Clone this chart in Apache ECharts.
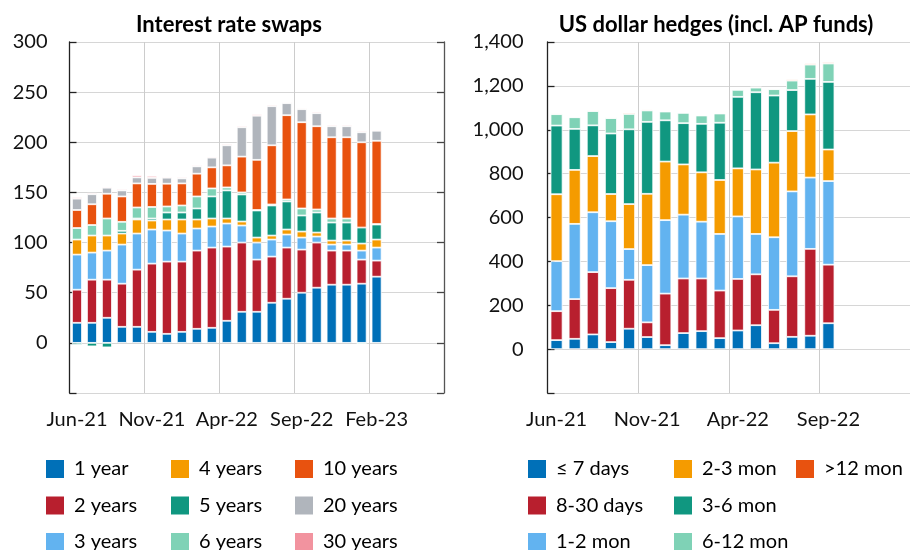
<!DOCTYPE html>
<html>
<head>
<meta charset="utf-8">
<script src="https://cdn.jsdelivr.net/npm/echarts@6/dist/echarts.min.js"></script>
<style>
  html, body { margin: 0; padding: 0; background: #fff; }
  #chart { width: 910px; height: 550px; }
</style>
</head>
<body>
<div id="chart"></div>
<script>
// Month labels for the two category axes
const swapMonths = ['Jun-21','Jul-21','Aug-21','Sep-21','Oct-21','Nov-21','Dec-21','Jan-22','Feb-22','Mar-22',
  'Apr-22','May-22','Jun-22','Jul-22','Aug-22','Sep-22','Oct-22','Nov-22','Dec-22','Jan-23',
  'Feb-23','Mar-23','Apr-23','May-23','Jun-23'];
const hedgeMonths = ['Jun-21','Jul-21','Aug-21','Sep-21','Oct-21','Nov-21','Dec-21','Jan-22','Feb-22','Mar-22',
  'Apr-22','May-22','Jun-22','Jul-22','Aug-22','Sep-22','Oct-22','Nov-22','Dec-22','Jan-23'];

// Interest rate swaps by maturity (Jun-21 .. Feb-23)
const irs1y  = [20, 20, 25, 16, 16, 11, 9, 11, 14, 15, 22, 31, 31, 40, 44, 50, 55, 58, 58, 59, 66];
const irs2y  = [33, 43, 38, 43, 57, 68, 72, 70, 78, 80, 74, 69, 52, 46, 51, 43, 45, 34, 34, 24, 16];
const irs3y  = [35, 27, 29, 39, 36, 34, 31, 28, 22, 21, 23, 17, 17, 17, 13, 12, 6, 6, 6, 9, 13];
const irs4y  = [15, 17, 15, 11, 14, 9, 11, 14, 9, 8, 5, 4, 5, 4, 5, 6, 4, 4, 4, 7, 8];
const irs5y  = [-2, -3.5, -4.5, 2.7, 1, 2, 7, 7, 11, 22, 28, 27, 27, 30, 28, 16, 20, 18, 18, 16, 15];
const irs6y  = [11.5, 10.5, 17, 9, 11, 11.5, 6, 7, 12, 8, 3, 2, 0.5, 1, 2, 7, 3, 4, 4, -1.5, 0.5];
const irs10y = [18, 20.7, 24.7, 25.3, 24, 23, 22.7, 22, 22.7, 21, 22, 35.7, 50, 59, 84, 86, 83, 81, 81, 85, 83];
const irs20y = [11.3, 10, 6, 6, 6, 6, 6, 5, 7.3, 9.7, 20, 29.3, 44, 39, 12, 13, 13, 11, 11, 10, 10];
const irs30y = [1.3, 1.3, 1, 1.3, 2, 2, 1, 1.3, 1, 1, 1.3, 1.3, 1.3, 1.3, 1, 1, 1.3, 1.3, 1.3, 1.3, 1];

// US dollar hedges by tenor (Jun-21 .. Sep-22)
const hd7d   = [41, 47, 67, 32, 93, 55, 18, 73, 82, 50, 85, 109, 27, 56, 61, 118];
const hd30d  = [132, 181, 284, 246, 223, 67, 235, 249, 240, 217, 235, 232, 152, 276, 396, 267];
const hd1to2 = [228, 343, 273, 305, 140, 261, 335, 291, 259, 258, 285, 184, 331, 387, 325, 381];
const hd2to3 = [305, 246, 256, 124, 205, 325, 267, 229, 225, 246, 219, 294, 340, 275, 288, 144];
const hd3to6 = [313, 187, 140, 276, 341, 328, 188, 188, 221, 261, 326, 352, 306, 187, 162, 308];
const hd6to12= [52, 53, 65, 70, 70, 52, 40, 47, 38, 42, 32, 21, 29, 43, 65, 84];
const hd12p  = [4, 2, 4, 4, 6, 4, 2, 2, 2, 2, 2, 4, 2, 5, 5, 5];

const C = {
  blue: '#0070B8', red: '#B81F2E', sky: '#62B3F0', amber: '#F59B00',
  teal: '#109780', mint: '#7FD2B6', orange: '#E8520F', grey: '#B0B5BC', pink: '#F2939F'
};

const FONT = 'Lato, "Noto Sans", sans-serif';
const gridGrey = '#d6d6d6';

const swapSeries = [
  ['1 year', irs1y, C.blue], ['2 years', irs2y, C.red], ['3 years', irs3y, C.sky],
  ['4 years', irs4y, C.amber], ['5 years', irs5y, C.teal], ['6 years', irs6y, C.mint],
  ['10 years', irs10y, C.orange], ['20 years', irs20y, C.grey], ['30 years', irs30y, C.pink]
];
const hedgeSeries = [
  ['\u2264 7 days', hd7d, C.blue], ['8-30 days', hd30d, C.red], ['1-2 mon', hd1to2, C.sky],
  ['2-3 mon', hd2to3, C.amber], ['3-6 mon', hd3to6, C.teal], ['6-12 mon', hd6to12, C.mint],
  ['>12 mon', hd12p, C.orange]
];

function barSeries(list, axisIdx, stack, width) {
  return list.map(([name, data, color]) => ({
    name, type: 'bar', stack, data,
    xAxisIndex: axisIdx, yAxisIndex: axisIdx === 0 ? 0 : 2,
    barWidth: width,
    itemStyle: { color, borderColor: '#ffffff', borderWidth: 0.8 },
    emphasis: { disabled: true }
  }));
}

// One legend block per column, stacked vertically
function legendColumn(names, left) {
  return {
    data: names, left, top: 458, height: 120, orient: 'vertical', padding: 0,
    itemWidth: 20, itemHeight: 20, itemGap: 14.5, icon: 'rect',
    selectedMode: false,
    textStyle: { fontFamily: FONT, fontSize: 20, color: '#000', lineHeight: 20, padding: [0, 0, 0, 4] }
  };
}

const yLabel = (v) => v < 0 ? '' : v.toLocaleString('en-US');

const option = {
  animation: false,
  textStyle: { fontFamily: FONT },
  grid: [
    { left: 69.5, top: 42, width: 374.5, height: 351 },
    { left: 547.5, top: 42, width: 374.6, height: 351 }
  ],
  xAxis: [
    {
      type: 'category', gridIndex: 0, data: swapMonths,
      axisLine: { show: false }, axisTick: { show: false },
      axisLabel: { interval: 4, fontSize: 20, color: '#111', margin: 17, fontFamily: FONT },
      splitLine: { show: true, interval: 4, lineStyle: { color: '#cccccc', width: 1 } }
    },
    {
      type: 'category', gridIndex: 1, data: hedgeMonths,
      axisLine: { show: false }, axisTick: { show: false },
      axisLabel: { interval: 4, fontSize: 20, color: '#111', margin: 17, fontFamily: FONT },
      splitLine: { show: true, interval: 4, lineStyle: { color: '#cccccc', width: 1 } }
    }
  ],
  yAxis: [
    {
      type: 'value', gridIndex: 0, min: -50, max: 300, interval: 50, position: 'left',
      axisLine: { show: true, lineStyle: { color: '#222', width: 1.3 } },
      axisTick: { show: true, inside: true, length: 7, lineStyle: { color: '#222', width: 1.3 } },
      axisLabel: { formatter: yLabel, fontSize: 20, color: '#111', margin: 22, fontFamily: FONT },
      splitLine: { show: true, lineStyle: { color: gridGrey, width: 1 } }
    },
    {
      type: 'value', gridIndex: 0, min: -50, max: 300, interval: 50, position: 'right',
      axisLine: { show: true, lineStyle: { color: '#555', width: 1.3 } },
      axisTick: { show: true, inside: true, length: 7, lineStyle: { color: '#444', width: 1.3 } },
      axisLabel: { show: false },
      splitLine: { show: false }
    },
    {
      type: 'value', gridIndex: 1, min: -200, max: 1400, interval: 200, position: 'left',
      axisLine: { show: true, lineStyle: { color: '#222', width: 1.3 } },
      axisTick: { show: true, inside: true, length: 7, lineStyle: { color: '#222', width: 1.3 } },
      axisLabel: { formatter: yLabel, fontSize: 20, color: '#111', margin: 24, fontFamily: FONT },
      splitLine: { show: true, lineStyle: { color: gridGrey, width: 1 } }
    }
  ],
  legend: [
    legendColumn(['1 year', '2 years', '3 years'], 44),
    legendColumn(['4 years', '5 years', '6 years'], 169),
    legendColumn(['10 years', '20 years', '30 years'], 293),
    legendColumn(['\u2264 7 days', '8-30 days', '1-2 mon'], 526),
    legendColumn(['2-3 mon', '3-6 mon', '6-12 mon'], 672),
    legendColumn(['>12 mon'], 794)
  ],
  graphic: [
    { type: 'text', x: 229, y: 25, style: { text: 'Interest rate swaps', font: 'bold 22px ' + FONT, fill: '#000', textAlign: 'center', textVerticalAlign: 'middle' } },
    { type: 'text', x: 716, y: 25, style: { text: 'US dollar hedges (incl. AP funds)', font: 'bold 22px ' + FONT, fill: '#000', textAlign: 'center', textVerticalAlign: 'middle' } }
  ],
  series: [
    ...barSeries(swapSeries, 0, 'swaps', 10),
    ...barSeries(hedgeSeries, 1, 'hedges', 12)
  ]
};

const chart = echarts.init(document.getElementById('chart'), null, { renderer: 'canvas' });
chart.setOption(option);
</script>
</body>
</html>
